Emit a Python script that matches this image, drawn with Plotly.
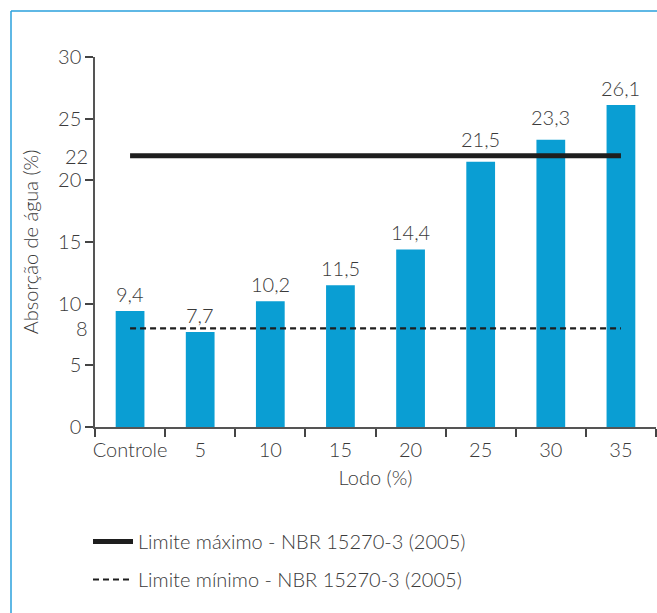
import plotly.graph_objects as go

categories = ["Controle", "5", "10", "15", "20", "25", "30", "35"]
values = [9.4, 7.7, 10.2, 11.5, 14.4, 21.5, 23.3, 26.1]
value_labels = ["9,4", "7,7", "10,2", "11,5", "14,4", "21,5", "23,3", "26,1"]
limit_max = 22
limit_min = 8
y_ticks = [0, 5, 10, 15, 20, 25, 30]

FONT = "Lato"
TXT = "#3a3a3a"
BAR = "#0a9ed3"
FS = 20

# pixel helpers for paper coords
L, R, T, B = 95, 1, 57, 186
W, H = 657, 613
pw, ph = W - L - R, H - T - B
def px(x):
    return (x - L) / pw
def py(y):
    return (H - B - y) / ph

fnt = dict(family=FONT, size=FS, color=TXT, weight=300)

fig = go.Figure()
fig.add_trace(go.Bar(
    x=categories, y=values,
    marker=dict(color=BAR, line=dict(width=0)), width=0.41,
    showlegend=False,
))
fig.add_trace(go.Scatter(
    x=[categories[0], categories[-1]], y=[limit_max, limit_max], mode="lines",
    line=dict(color="#1e1e1e", width=5), name="Limite máximo - NBR 15270-3 (2005)",
    legendgroup="a",
))
fig.add_trace(go.Scatter(
    x=[categories[0], categories[-1]], y=[limit_min, limit_min], mode="lines",
    line=dict(color="#1e1e1e", width=2.2, dash="6px,4px"), name="Limite mínimo - NBR 15270-3 (2005)",
    legendgroup="b",
))

# value labels above bars (lifted a bit more when they would touch the max-limit line)
for i, (v, t) in enumerate(zip(values, value_labels)):
    shift = 17
    if abs(v - limit_max) < 1.5:
        shift = 23
    fig.add_annotation(x=i, y=v, text=t, showarrow=False, yanchor="middle",
                       yshift=shift, font=fnt)

for v in (limit_max, limit_min):
    fig.add_annotation(x=0, xref="paper", y=v, yref="y", text=str(v), showarrow=False,
                       xanchor="right", xshift=-5, font=fnt)

border = "#2aa0dc"
fig.add_shape(type="line", xref="paper", yref="paper", x0=px(11), x1=px(11), y0=py(620), y1=py(11),
              line=dict(color=border, width=1.5))
fig.add_shape(type="line", xref="paper", yref="paper", x0=px(11), x1=px(670), y0=py(11), y1=py(11),
              line=dict(color=border, width=1.5))

fig.update_layout(
    width=W, height=H, margin=dict(l=L, r=R, t=T, b=B),
    paper_bgcolor="white", plot_bgcolor="white",
    font=fnt,
    xaxis=dict(
        type="category", tickson="boundaries", ticks="outside", ticklen=8, tickwidth=1.5,
        tickcolor="#444", showline=True, linecolor="#555", linewidth=1.5, showgrid=False,
        tickfont=fnt, tickangle=0, ticklabelstandoff=4,
        title=dict(text="Lodo (%)", standoff=11, font=fnt),
        range=[-0.5, 7.5],
    ),
    yaxis=dict(
        range=[0, 30], tickvals=y_ticks, ticks="outside", ticklen=8, tickwidth=1.5,
        tickcolor="#444", showline=True, linecolor="#555", linewidth=1.5, showgrid=False,
        zeroline=False, tickfont=fnt,
        title=dict(text="Absorção de água (%)", standoff=14, font=fnt),
    ),
    legend=dict(
        x=px(88), y=py(522), xanchor="left", yanchor="top",
        font=fnt, tracegroupgap=9, bgcolor="rgba(0,0,0,0)", itemwidth=40,
    ),
)

fig.write_html("out.html")
